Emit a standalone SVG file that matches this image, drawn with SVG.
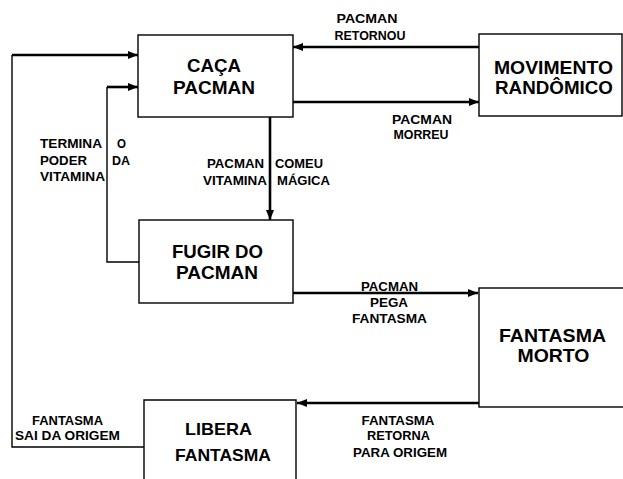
<svg xmlns="http://www.w3.org/2000/svg" width="623" height="479" viewBox="0 0 623 479">
<defs>
<style>
.box{fill:#fff;stroke:#000;stroke-width:1.4}
text{font-family:"Liberation Sans",Arial,sans-serif;font-weight:bold;fill:#000}
.big{font-size:18.5px;text-anchor:middle}
.lbl{font-size:13px;text-anchor:middle}
.lbls{font-size:13px;text-anchor:start}
.thick{fill:none;stroke:#000;stroke-width:2.6}
.thin{fill:none;stroke:#000;stroke-width:1.4}
</style>
<marker id="ah" markerUnits="userSpaceOnUse" markerWidth="12" markerHeight="10" refX="10" refY="4" orient="auto">
<path d="M0,0 L10,4 L0,8 Z" fill="#000"/>
</marker>
</defs>
<rect width="623" height="479" fill="#fff"/>

<g id="connectors">
<path class="thin" d="M144,447 H12 V55"/>
<path class="thick" d="M12,55 H138" marker-end="url(#ah)"/>
<path class="thin" d="M139,262 H107 V87"/>
<path class="thick" d="M107,87 H138" marker-end="url(#ah)"/>
<path class="thick" d="M479,47 H293" marker-end="url(#ah)"/>
<path class="thick" d="M293,102 H479" marker-end="url(#ah)"/>
<path class="thick" d="M270,117 V220" marker-end="url(#ah)"/>
<path class="thick" d="M293,293 H478" marker-end="url(#ah)"/>
<path class="thick" d="M479,403 H297" marker-end="url(#ah)"/>
</g>

<g id="labels">
<text class="lbl" x="367" y="23" textLength="61" lengthAdjust="spacingAndGlyphs">PACMAN</text>
<text class="lbl" x="370" y="40" textLength="71" lengthAdjust="spacingAndGlyphs">RETORNOU</text>
<text class="lbl" x="422" y="124" textLength="60" lengthAdjust="spacingAndGlyphs">PACMAN</text>
<text class="lbl" x="421" y="139" textLength="55" lengthAdjust="spacingAndGlyphs">MORREU</text>
<text class="lbls" x="40" y="148" textLength="62" lengthAdjust="spacingAndGlyphs">TERMINA</text>
<text class="lbls" x="117" y="148" textLength="9" lengthAdjust="spacingAndGlyphs">O</text>
<text class="lbls" x="40" y="165" textLength="47" lengthAdjust="spacingAndGlyphs">PODER</text>
<text class="lbls" x="112" y="165" textLength="18" lengthAdjust="spacingAndGlyphs">DA</text>
<text class="lbls" x="40" y="181" textLength="65" lengthAdjust="spacingAndGlyphs">VITAMINA</text>
<text class="lbls" x="207" y="168" textLength="57" lengthAdjust="spacingAndGlyphs">PACMAN</text>
<text class="lbls" x="275" y="168" textLength="48" lengthAdjust="spacingAndGlyphs">COMEU</text>
<text class="lbls" x="203" y="185" textLength="64" lengthAdjust="spacingAndGlyphs">VITAMINA</text>
<text class="lbls" x="277" y="185" textLength="53" lengthAdjust="spacingAndGlyphs">MÁGICA</text>
<text class="lbl" x="389.5" y="291" textLength="57" lengthAdjust="spacingAndGlyphs">PACMAN</text>
<text class="lbl" x="389" y="307" textLength="38" lengthAdjust="spacingAndGlyphs">PEGA</text>
<text class="lbl" x="389.5" y="323" textLength="75" lengthAdjust="spacingAndGlyphs">FANTASMA</text>
<text class="lbl" x="398" y="425" textLength="73" lengthAdjust="spacingAndGlyphs">FANTASMA</text>
<text class="lbl" x="398.5" y="440" textLength="63" lengthAdjust="spacingAndGlyphs">RETORNA</text>
<text class="lbl" x="400" y="457" textLength="94" lengthAdjust="spacingAndGlyphs">PARA ORIGEM</text>
<text class="lbl" x="67.5" y="425" textLength="71" lengthAdjust="spacingAndGlyphs">FANTASMA</text>
<text class="lbl" x="67.5" y="440" textLength="105" lengthAdjust="spacingAndGlyphs">SAI DA ORIGEM</text>
</g>

<g id="caca-pacman">
<rect class="box" x="138" y="35" width="155" height="82"/>
<text class="big" x="214" y="72" textLength="54" lengthAdjust="spacingAndGlyphs">CAÇA</text>
<text class="big" x="214" y="94" textLength="82" lengthAdjust="spacingAndGlyphs">PACMAN</text>
</g>

<g id="movimento-randomico">
<rect class="box" x="479" y="34" width="143" height="82"/>
<text class="big" x="553.5" y="74" textLength="119" lengthAdjust="spacingAndGlyphs">MOVIMENTO</text>
<text class="big" x="554" y="94" textLength="118" lengthAdjust="spacingAndGlyphs">RANDÔMICO</text>
</g>

<g id="fugir-do-pacman">
<rect class="box" x="139" y="220" width="154" height="83"/>
<text class="big" x="217.5" y="258" textLength="91" lengthAdjust="spacingAndGlyphs">FUGIR DO</text>
<text class="big" x="217" y="279" textLength="82" lengthAdjust="spacingAndGlyphs">PACMAN</text>
</g>

<g id="fantasma-morto">
<rect class="box" x="479" y="288" width="150" height="119"/>
<text class="big" x="552.5" y="342" font-size="19" textLength="107" lengthAdjust="spacingAndGlyphs">FANTASMA</text>
<text class="big" x="553.5" y="362" font-size="19" textLength="72" lengthAdjust="spacingAndGlyphs">MORTO</text>
</g>

<g id="libera-fantasma">
<path class="box" d="M144,485 V400 H296 V485"/>
<text class="big" x="218.5" y="435" style="font-size:17px" textLength="67" lengthAdjust="spacingAndGlyphs">LIBERA</text>
<text class="big" x="223" y="460.5" style="font-size:17px" textLength="96" lengthAdjust="spacingAndGlyphs">FANTASMA</text>
</g>
</svg>
